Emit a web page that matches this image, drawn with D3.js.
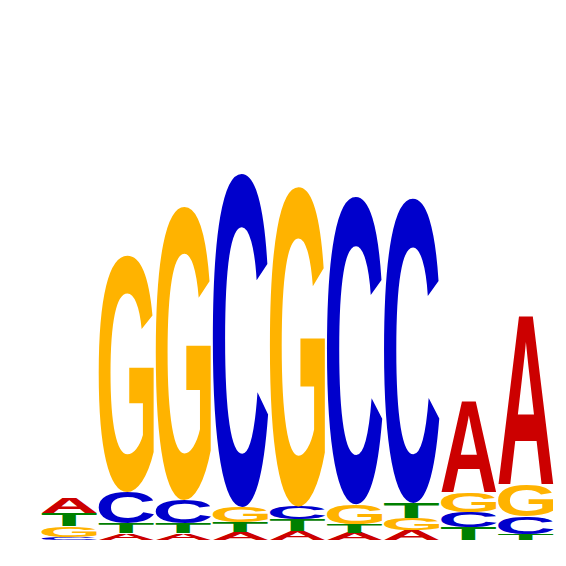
<!DOCTYPE html>
<html>
<head>
<meta charset="utf-8">
<script src="https://cdn.jsdelivr.net/npm/d3@7"></script>
<style>
  html, body { margin: 0; padding: 0; background: #fff; }
  svg { display: block; }
</style>
</head>
<body>
<script>
'use strict';

// positions of the motif
const positions = [1, 2, 3, 4, 5, 6, 7, 8, 9];
const bases = ['A', 'C', 'G', 'T'];

// information content per base (bits)
const heightA = [0.059, 0.027, 0.027, 0.031, 0.035, 0.029, 0.039, 0.357, 0.663];
const heightC = [0.012, 0.122, 0.090, 1.310, 0.049, 1.208, 1.196, 0.059, 0.067];
const heightG = [0.043, 0.929, 1.153, 0.059, 1.255, 0.078, 0.047, 0.075, 0.122];
const heightT = [0.049, 0.039, 0.039, 0.039, 0.047, 0.033, 0.059, 0.051, 0.024];

const baseColors = { A: '#cc0000', C: '#0000cc', G: '#ffb300', T: '#008000' };

(function () {

    const plot = {
        width: 566,
        height: 566,
        left: 41,
        right: 554,
        baseline: 540,
        top: 30
    };

    const heights = { A: heightA, C: heightC, G: heightG, T: heightT };

    const x = d3.scaleBand()
        .domain(positions)
        .range([plot.left, plot.right])
        .paddingInner(0.03)
        .paddingOuter(0.01);

    const y = d3.scaleLinear()
        .domain([0, 2])
        .range([plot.baseline, plot.top]);

    // ink bounds of each glyph, measured once on a canvas
    const fontSpec = 'bold 200px "Liberation Sans", Arial, sans-serif';
    const ctx = document.createElement('canvas').getContext('2d');
    ctx.font = fontSpec;
    const ink = {};
    bases.forEach(function (b) {
        const m = ctx.measureText(b);
        ink[b] = {
            left: m.actualBoundingBoxLeft,
            right: m.actualBoundingBoxRight,
            ascent: m.actualBoundingBoxAscent,
            descent: m.actualBoundingBoxDescent
        };
    });

    // build stacks: smallest at the bottom
    const stacks = positions.map(function (p, i) {
        const items = bases.map(function (b) { return { base: b, bits: heights[b][i] }; })
            .filter(function (d) { return d.bits > 0; })
            .sort(function (a, b) { return a.bits - b.bits; });
        let acc = 0;
        items.forEach(function (d) {
            d.y0 = acc;
            acc += d.bits;
            d.y1 = acc;
            d.pos = p;
        });
        return items;
    });

    const svg = d3.select('body').append('svg')
        .attr('width', plot.width)
        .attr('height', plot.height);

    svg.append('rect')
        .attr('width', plot.width)
        .attr('height', plot.height)
        .attr('fill', '#fff');

    svg.append('g')
        .attr('class', 'columns')
        .selectAll('g')
        .data(stacks)
        .enter()
        .append('g')
        .selectAll('text')
        .data(function (d) { return d; })
        .enter()
        .append('text')
        .attr('font-family', '"Liberation Sans", Arial, sans-serif')
        .attr('font-weight', 'bold')
        .attr('font-size', 200)
        .attr('fill', function (d) { return baseColors[d.base]; })
        .attr('transform', function (d) {
            const g = ink[d.base];
            const x0 = x(d.pos);
            const w = x.bandwidth();
            const top = y(d.y1);
            const h = y(d.y0) - y(d.y1);
            const sx = w / (g.left + g.right);
            const sy = h / (g.ascent + g.descent);
            return 'translate(' + x0 + ',' + top + ') scale(' + sx + ',' + sy + ') translate(' + g.left + ',' + g.ascent + ')';
        })
        .text(function (d) { return d.base; });

})();
</script>
</body>
</html>
